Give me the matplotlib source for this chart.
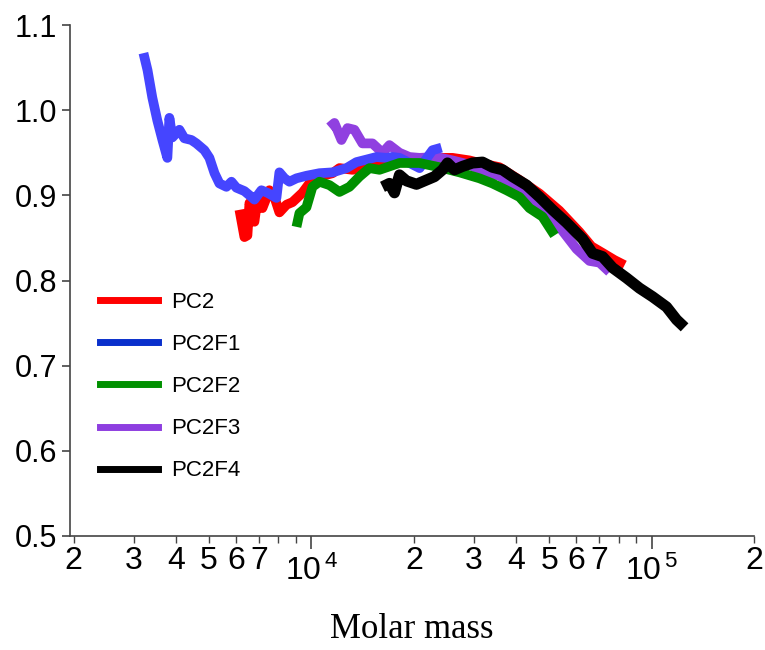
import math

import matplotlib
matplotlib.use("Agg")
import matplotlib.pyplot as plt
from matplotlib.lines import Line2D
from matplotlib.ticker import FixedLocator, FuncFormatter

# values (molar mass, y)
pc2_m = [6142, 6353, 6482, 6572, 6797, 6934, 7174, 7523, 7782, 8050, 8444, 8795, 9408, 9863,
         10556, 11534, 12087, 13203, 14125, 15118, 16622, 18776, 20797, 23321, 25986, 29153,
         31190, 35727, 40926, 46855, 53591, 61377, 66620, 72744, 77804, 83290]
pc2_y = [0.883, 0.851, 0.853, 0.891, 0.869, 0.895, 0.885, 0.906, 0.898, 0.880, 0.889, 0.892, 0.903, 0.914,
         0.922, 0.926, 0.932, 0.930, 0.932, 0.936, 0.938, 0.941, 0.941, 0.944, 0.944, 0.941,
         0.938, 0.933, 0.918, 0.902, 0.882, 0.857, 0.840, 0.831, 0.824, 0.818]

pc2f1_m = [3206, 3296, 3404, 3522, 3646, 3770, 3822, 3899, 4090, 4230, 4436, 4589, 4845, 5012,
           5188, 5363, 5623, 5818, 6016, 6353, 6668, 6797, 7127, 7424, 7889, 8050, 8333, 8616,
           9036, 9667, 10556, 11534, 12677, 13557, 14516, 15524, 16622, 17298, 18155, 20797,
           22697, 24121]
pc2f1_y = [1.067, 1.047, 1.015, 0.988, 0.965, 0.944, 0.991, 0.968, 0.977, 0.967, 0.965, 0.961, 0.953, 0.944,
           0.926, 0.914, 0.910, 0.916, 0.909, 0.905, 0.898, 0.895, 0.906, 0.903, 0.897, 0.927, 0.920, 0.916,
           0.920, 0.923, 0.926, 0.927, 0.932, 0.939, 0.942, 0.945, 0.944, 0.945, 0.944, 0.932,
           0.953, 0.956]

pc2f2_m = [9036, 9219, 9667, 10068, 10556, 11296, 12087, 12935, 13842, 14811, 15849, 18150, 20781,
           23795, 27250, 31190, 34050, 37460, 40926, 43760, 47775, 51850]
pc2f2_y = [0.863, 0.879, 0.886, 0.910, 0.916, 0.912, 0.904, 0.910, 0.922, 0.932, 0.930, 0.938, 0.938,
           0.933, 0.927, 0.920, 0.914, 0.906, 0.898, 0.885, 0.875, 0.853]

pc2f3_m = [11296, 11685, 12253, 12762, 13380, 14125, 15115, 16176, 16957, 18150, 19422, 20781, 23321,
           25986, 29153, 32713, 35727, 40926, 46855, 53591, 60180, 65710, 70320, 75250]
pc2f3_y = [0.980, 0.985, 0.965, 0.979, 0.977, 0.961, 0.961, 0.950, 0.959, 0.950, 0.945, 0.944, 0.945,
           0.941, 0.936, 0.926, 0.923, 0.906, 0.886, 0.863, 0.837, 0.823, 0.821, 0.810]

pc2f4_m = [16176, 16957, 17541, 18150, 19030, 20363, 21790, 23005, 24281, 25119, 26335, 27806, 29750,
           31834, 34070, 36460, 39010, 42900, 46855, 51150, 56234, 62660, 67080, 71780, 76810, 84430,
           92200, 100670, 110700, 118450, 125080]
pc2f4_y = [0.910, 0.914, 0.903, 0.924, 0.917, 0.913, 0.918, 0.922, 0.930, 0.938, 0.930, 0.934, 0.938,
           0.939, 0.933, 0.930, 0.922, 0.912, 0.898, 0.883, 0.868, 0.849, 0.832, 0.828, 0.815, 0.803,
           0.791, 0.781, 0.769, 0.754, 0.745]

labels = ["PC2", "PC2F1", "PC2F2", "PC2F3", "PC2F4"]
line_colors = ["#ff0000", "#4545ff", "#009000", "#9040e0", "#000000"]
legend_colors = ["#ff0000", "#0a30cc", "#009000", "#8e3ee0", "#000000"]

plt.rcParams["font.family"] = ["Liberation Sans", "DejaVu Sans"]

fig = plt.figure(figsize=(7.65, 6.5), dpi=100)
ax = fig.add_axes([0.0915, 0.1754, 0.894, 0.7861])

series = [(pc2_m, pc2_y), (pc2f1_m, pc2f1_y), (pc2f2_m, pc2f2_y), (pc2f3_m, pc2f3_y), (pc2f4_m, pc2f4_y)]
zorders = [2, 4, 5, 3, 6]
widths = [7, 7, 7, 7, 8]
for (m, y), c, z, w in zip(series, line_colors, zorders, widths):
    ax.plot(m, y, color=c, lw=w, solid_capstyle="butt", solid_joinstyle="round", zorder=z)

ax.set_xscale("log")
ax.set_xlim(1950, 2.0e5)
ax.set_ylim(0.5, 1.1)

for s in ["top", "right"]:
    ax.spines[s].set_visible(False)
for s in ["left", "bottom"]:
    ax.spines[s].set_color("#444444")
    ax.spines[s].set_linewidth(1.2)

ax.set_yticks([0.5, 0.6, 0.7, 0.8, 0.9, 1.0, 1.1])
ax.yaxis.set_major_formatter(FuncFormatter(lambda v, p: f"{v:.1f}"))
ax.tick_params(axis="y", length=6, width=1.2, color="#444444", labelsize=22, pad=3)

ax.xaxis.set_major_locator(FixedLocator([1e4, 1e5]))
ax.xaxis.set_major_formatter(FuncFormatter(lambda v, p: r"$\mathregular{10^{\,%d}}$" % round(math.log10(v))))
minor = [k * 10 ** e for e in (3, 4, 5) for k in range(2, 10) if 1950 <= k * 10 ** e <= 2.0e5]
ax.xaxis.set_minor_locator(FixedLocator(minor))


def minor_fmt(v, p):
    lead = int(round(v / 10 ** math.floor(math.log10(v))))
    return str(lead) if lead <= 7 else ""


ax.xaxis.set_minor_formatter(FuncFormatter(minor_fmt))
ax.tick_params(axis="x", which="major", length=9, width=1.2, color="#444444", labelsize=23, pad=5)
ax.tick_params(axis="x", which="minor", length=5, width=1.0, color="#444444", labelsize=23, pad=2)

ax.set_xlabel("Molar mass", family=["Liberation Serif"], fontsize=25, labelpad=19)

handles = [Line2D([], [], color=c, lw=5) for c in legend_colors]
ax.legend(handles, labels, loc="upper left", bbox_to_anchor=(100 / 765, 1 - 292 / 650),
          bbox_transform=fig.transFigure, frameon=False, fontsize=16, handlelength=2.6,
          handletextpad=0.6, labelspacing=0.95, borderpad=0, borderaxespad=0)

fig.savefig("out.png", dpi=100)
